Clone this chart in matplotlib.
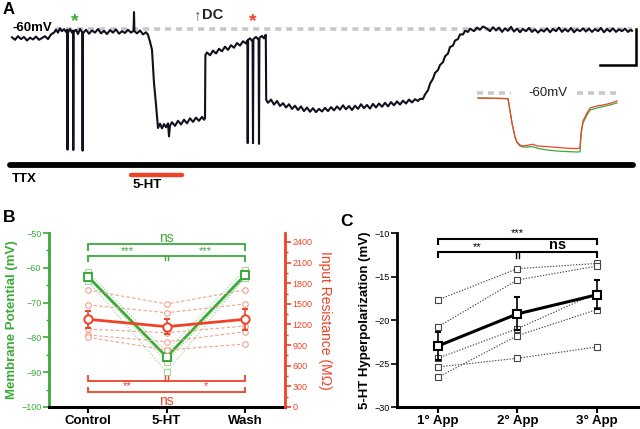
import matplotlib.pyplot as plt
from matplotlib.ticker import MultipleLocator

plt.rcParams['font.family'] = ['Liberation Sans', 'DejaVu Sans']

GREEN = '#3aaa38'
RED = '#ee4326'
LGREEN = '#a3d69e'
LRED = '#f2a189'
GREY = '#c8c8c8'
TRACE = '#140f1e'

# ---------------- data ----------------
# panel A: whole-cell recording (time in s, membrane potential in mV)
trace = [
    (0, -62.3), (3, -63.0), (6, -62.0), (9, -62.8), (12, -62.2), (15, -63.2), (18, -62.4),
    (21, -62.9), (24, -62.1), (27, -63.0), (30, -62.5), (33, -62.0), (36, -62.8), (39, -61.5),
    (42, -61.0), (44, -60.2), (46, -61.0), (48, -59.8), (50, -60.6), (52, -60.0), (54, -60.8),
    (55.2, -60.2), (55.5, -93.5), (55.9, -61.0), (58, -60.0), (60, -61.0), (61.0, -60.4),
    (61.3, -93.6), (61.7, -60.8), (64, -60.2), (66, -61.4), (68, -60.0), (70.2, -60.9),
    (70.6, -93.8), (71.0, -61.2), (74, -60.2), (77, -61.3), (80, -60.4), (83, -61.0), (86, -60.0),
    (89, -61.2), (92, -60.5), (95, -61.4), (98, -60.3), (101, -61.0), (104, -60.1), (107, -61.3),
    (110, -60.6), (113, -61.1), (116, -60.2), (119, -61.0), (121.6, -60.5), (122, -55.3),
    (122.4, -60.6), (125, -61.2), (128, -60.4), (131, -61.5), (134, -60.9), (136, -61.6),
    (138, -63.5), (140, -65.8), (142, -75.0), (144, -81.0), (145, -84.4), (146, -87.5),
    (148, -86.3), (150, -87.6), (152, -86.4), (154, -87.3), (156, -86.2), (157, -89.8),
    (158, -86.8), (160, -85.9), (163, -86.9), (166, -85.5), (169, -86.5), (172, -85.2),
    (175, -86.2), (178, -84.8), (181, -85.8), (184, -84.6), (187, -85.5), (190, -84.4),
    (192, -85.2), (193, -84.8), (193.4, -67.2), (195, -66.5), (198, -67.3), (201, -66.0),
    (204, -66.8), (207, -65.5), (210, -66.2), (213, -64.9), (216, -65.8), (219, -64.5),
    (222, -65.2), (225, -63.9), (228, -64.6), (231, -63.4), (234, -64.0), (235.4, -63.2),
    (235.7, -91.7), (236.1, -63.0), (238, -62.6), (240.6, -63.5), (241, -91.7), (241.4, -62.8),
    (244, -62.2), (246.6, -63.0), (247, -91.9), (247.4, -62.5), (250, -61.9), (252, -62.6),
    (253.8, -61.6), (254.2, -79.7), (256, -80.5), (259, -79.6), (262, -81.0), (265, -80.0),
    (268, -81.4), (271, -80.6), (274, -81.8), (277, -80.9), (280, -82.2), (283, -81.3),
    (286, -82.5), (289, -81.5), (292, -82.8), (295, -81.8), (298, -83.0), (301, -82.0),
    (304, -83.1), (307, -82.2), (310, -82.9), (313, -81.9), (316, -82.8), (319, -81.7),
    (322, -82.6), (325, -81.5), (328, -82.4), (331, -81.2), (334, -82.3), (337, -81.4),
    (340, -82.5), (343, -81.3), (346, -82.2), (349, -80.9), (352, -82.0), (355, -81.1),
    (358, -82.1), (361, -80.8), (364, -81.8), (367, -80.7), (370, -81.6), (373, -80.5),
    (376, -81.5), (379, -80.3), (382, -81.2), (385, -80.1), (388, -81.0), (391, -79.9),
    (394, -80.7), (397, -79.6), (400, -80.4), (403, -79.5), (406, -80.0), (408, -79.4),
    (411, -79.4), (413, -78.2), (416, -77.0), (418, -75.2), (421, -73.8), (423, -72.2),
    (426, -71.4), (428, -70.0), (431, -69.2), (433, -67.6), (436, -66.8), (438, -65.0),
    (441, -64.6), (443, -63.2), (446, -62.8), (448, -61.5), (451, -61.5), (453, -60.5),
    (456, -60.8), (458, -59.9), (462, -60.6), (465, -59.6), (468, -60.2), (471, -59.3),
    (475, -59.9), (478, -60.6), (481, -59.5), (484, -60.4), (487, -59.6), (490, -60.8),
    (493, -59.8), (496, -60.5), (499, -59.4), (502, -60.7), (505, -59.9), (508, -60.9),
    (511, -60.0), (514, -60.6), (517, -59.7), (520, -60.8), (523, -60.1), (526, -61.0),
    (529, -60.2), (532, -60.7), (535, -59.8), (538, -60.9), (541, -60.0), (544, -60.6),
    (547, -59.6), (550, -60.8), (553, -60.0), (556, -60.7), (559, -59.7), (562, -60.9),
    (565, -60.1), (568, -60.6), (571, -59.8), (574, -60.7), (577, -59.9), (580, -60.8),
    (583, -60.0), (586, -60.6), (589, -59.7), (592, -60.9), (595, -60.0), (598, -60.7),
    (601, -59.8), (604, -60.8), (607, -60.1), (610, -60.6), (613, -59.9), (616, -60.8),
    (619, -60.2), (620, -60.5),
]
ttx_span = (-2, 621)
ht_span = (119, 170)
scale_t = (588, 624)
scale_v = (-70, -60)

# inset: current-step responses at the two asterisks
inset_t = [1, 31, 35, 38, 40, 43, 46, 50, 56, 60, 70, 80, 90, 100, 103,
           104, 106, 110, 113, 120, 126, 133, 140]
inset_green = [-62.5, -62.8, -75.0, -82.0, -84.8, -86.5, -87.0, -87.0, -86.8, -87.6, -88.5,
               -89.0, -89.3, -89.5, -89.4, -81.0, -75.0, -71.0, -68.5, -67.5, -66.8, -66.0, -65.0]
inset_red = [-62.5, -62.8, -75.0, -82.0, -84.5, -86.0, -86.5, -86.2, -85.6, -86.5, -86.8,
             -87.2, -87.6, -87.8, -87.5, -80.0, -74.0, -70.0, -67.5, -66.5, -66.0, -65.2, -64.0]

# panel B
conditions = ['Control', '5-HT', 'Wash']
vm_cells = [
    [-61.3, -84.0, -60.5],
    [-62.5, -85.5, -61.8],
    [-63.0, -87.0, -63.0],
    [-63.8, -90.0, -62.8],
]
vm_mean = [-62.6, -85.6, -62.1]
vm_sem = [0.6, 1.2, 0.6]
rin_cells = [
    [1701, 1498, 1701],
    [1483, 1371, 1498],
    [1131, 1080, 1178],
    [1047, 949, 1095],
    [1013, 829, 916],
]
rin_mean = [1275, 1168, 1275]
rin_sem = [128, 107, 157]

# panel C
applications = ['1° App', '2° App', '3° App']
hyp_cells = [
    [-17.7, -14.1, -13.5],
    [-20.8, -15.4, -13.8],
    [-24.4, -21.0, -16.9],
    [-26.6, -21.8, -18.8],
    [-25.4, -24.4, -23.1],
]
hyp_mean = [-23.0, -19.3, -17.1]
hyp_sem = [1.6, 1.9, 1.65]

W, H = 640, 429
fig = plt.figure(figsize=(6.4, 4.29), dpi=100)


def px_axes(left, top, width, height):
    return fig.add_axes([left / W, 1 - (top + height) / H, width / W, height / H])


def bracket(ax, x0, x1, y, tick, color, lw=1.3):
    ax.plot([x0, x0, x1, x1], [y + tick, y, y, y + tick], color=color, lw=lw,
            solid_joinstyle='miter', solid_capstyle='butt', clip_on=False)


def mid_tick(ax, x, y0, y1, color):
    for dx in (-0.018, 0.018):
        ax.plot([x + dx, x + dx], [y0, y1], color=color, lw=1.0, clip_on=False)


# ---------------- panel A ----------------
ax_a = px_axes(0, 0, 640, 195)
ax_a.set_xlim(-12, 628)
ax_a.set_ylim(-106.11, -51.94)
ax_a.axis('off')

ax_a.plot([43, 620], [-60, -60], color=GREY, lw=2.6, dashes=(1.65, 1.4), zorder=1)
tt = [p[0] for p in trace]
vv = [p[1] for p in trace]
ax_a.plot(tt, vv, color=TRACE, lw=1.5, zorder=2)
ax_a.plot([scale_t[0], scale_t[1], scale_t[1]], [scale_v[0], scale_v[0], scale_v[1]],
          color='black', lw=1.8, solid_joinstyle='miter')
ax_a.plot(ttx_span, [-97.8, -97.8], color='black', lw=4.2, solid_capstyle='round')
ax_a.plot(ht_span, [-100.6, -100.6], color=RED, lw=3.2, solid_capstyle='round')
ax_a.text(0, -101.6, 'TTX', fontsize=9.5, fontweight='bold', va='center', ha='left')
ax_a.text(121, -103.4, '5-HT', fontsize=9.5, fontweight='bold', va='center', ha='left')
ax_a.text(0, -59.6, '-60mV', fontsize=9.5, fontweight='bold', va='center', ha='left')
ax_a.text(63, -59.2, '*', fontsize=14, fontweight='bold', color=GREEN, ha='center', va='baseline')
ax_a.text(241, -59.2, '*', fontsize=14, fontweight='bold', color=RED, ha='center', va='baseline')
ax_a.text(186, -56.0, '↑', fontsize=11, color='#555555', ha='center', va='center')
ax_a.text(190, -56.0, 'DC', fontsize=10.5, fontweight='bold', color='#222222',
          ha='left', va='center')

ax_in = px_axes(477, 85, 145, 75)
ax_in.set_xlim(0, 145)
ax_in.set_ylim(-93.5, -56)
ax_in.axis('off')
ax_in.plot([0, 34], [-60, -60], color=GREY, lw=2.6, dashes=(1.65, 1.4))
ax_in.plot([100, 143], [-60, -60], color=GREY, lw=2.6, dashes=(1.65, 1.4))
ax_in.text(71, -60, '-60mV', fontsize=9.5, ha='center', va='center', color='#222222')
ax_in.plot(inset_t, inset_green, color=GREEN, lw=0.9)
ax_in.plot(inset_t, inset_red, color=RED, lw=0.9)

# ---------------- panel B ----------------
xb = [0, 1, 2]
ax_b = px_axes(49, 233, 236, 174)
ax_b.set_xlim(-0.5, 2.51)
ax_b.set_ylim(-100, -50)
ax_r = ax_b.twinx()
ax_r.set_ylim(0, 2530)

for s in vm_cells:
    ax_b.plot(xb, s, ls=(0, (1.2, 1.4)), color=LGREEN, lw=0.8, marker='s', ms=3.8,
              mfc='white', mec=LGREEN, mew=0.8)
ax_b.errorbar(xb, vm_mean, yerr=vm_sem, color=GREEN, lw=2.0, marker='s', ms=6,
              mfc='white', mec=GREEN, mew=1.4, capsize=2.5, elinewidth=1.2, zorder=5)

for s in rin_cells:
    ax_r.plot(xb, s, ls=(0, (3, 2)), color=LRED, lw=0.8, marker='o', ms=4,
              mfc='white', mec=LRED, mew=0.8)
ax_r.errorbar(xb, rin_mean, yerr=rin_sem, color=RED, lw=2.0, marker='o', ms=6,
              mfc='white', mec=RED, mew=1.4, capsize=2.5, elinewidth=1.2, zorder=5)

# significance brackets
bracket(ax_b, 0, 2, -53.25, -1.9, GREEN)
ax_b.text(1, -51.5, 'ns', color=GREEN, fontsize=10, ha='center', va='center')
bracket(ax_b, 0, 2, -56.5, -1.7, GREEN)
mid_tick(ax_b, 1, -56.5, -57.9, GREEN)
ax_b.text(0.5, -55.2, '***', color=GREEN, fontsize=8, ha='center', va='center')
ax_b.text(1.5, -55.2, '***', color=GREEN, fontsize=8, ha='center', va='center')
bracket(ax_b, 0, 2, -92.5, 1.7, RED)
mid_tick(ax_b, 1, -92.5, -91.0, RED)
bracket(ax_b, 0, 2, -95.8, 1.6, RED)
ax_b.text(0.5, -94.0, '**', color=RED, fontsize=8, ha='center', va='center')
ax_b.text(1.5, -94.0, '*', color=RED, fontsize=8, ha='center', va='center')
ax_b.text(1, -98.2, 'ns', color=RED, fontsize=10, ha='center', va='center')

for sp in ('top', 'right'):
    ax_b.spines[sp].set_visible(False)
for sp in ('top', 'left', 'bottom'):
    ax_r.spines[sp].set_visible(False)
ax_b.spines['left'].set_color(GREEN)
ax_b.spines['left'].set_linewidth(2.0)
ax_b.spines['bottom'].set_linewidth(2.2)
ax_r.spines['right'].set_color(RED)
ax_r.spines['right'].set_linewidth(2.0)

ax_b.yaxis.set_major_locator(MultipleLocator(10))
ax_b.yaxis.set_minor_locator(MultipleLocator(5))
ax_b.tick_params(axis='y', which='major', colors=GREEN, labelsize=6.5, length=4, width=1.2, pad=1.5)
ax_b.tick_params(axis='y', which='minor', colors=GREEN, length=2.5, width=1.0)
ax_b.set_xticks(xb)
ax_b.set_xticklabels(conditions, fontsize=9.5, fontweight='bold')
ax_b.tick_params(axis='x', length=4, width=1.5, pad=2)
ax_b.set_ylabel('Membrane Potential (mV)', color=GREEN, fontsize=9.5, fontweight='bold', labelpad=2)

ax_r.yaxis.set_major_locator(MultipleLocator(300))
ax_r.yaxis.set_minor_locator(MultipleLocator(150))
ax_r.set_yticks(range(0, 2401, 300))
ax_r.tick_params(axis='y', which='major', colors=RED, labelsize=6.5, length=4, width=1.2, pad=1.5)
ax_r.tick_params(axis='y', which='minor', colors=RED, length=2.5, width=1.0)
ax_r.set_ylabel('Input Resistance (MΩ)', color=RED, fontsize=10, rotation=270, va='bottom',
                labelpad=4)

# ---------------- panel C ----------------
xc = [0, 1, 2]
ax_c = px_axes(397, 233, 243, 174)
ax_c.set_xlim(-0.51, 2.54)
ax_c.set_ylim(-30, -10)
for s in hyp_cells:
    ax_c.plot(xc, s, ls=(0, (1.2, 1.4)), color='#444444', lw=0.8, marker='s', ms=3.8,
              mfc='white', mec='#444444', mew=0.8)
ax_c.errorbar(xc, hyp_mean, yerr=hyp_sem, color='black', lw=2.2, marker='s', ms=6,
              mfc='white', mec='black', mew=1.5, capsize=2.5, elinewidth=1.2, zorder=5)

bracket(ax_c, 0, 2, -10.72, -0.66, 'black', lw=1.5)
ax_c.text(1, -10.0, '***', fontsize=8, ha='center', va='center')
bracket(ax_c, 0, 2, -12.15, -0.75, 'black', lw=1.5)
mid_tick(ax_c, 1, -12.15, -12.9, 'black')
ax_c.text(0.5, -11.6, '**', fontsize=8, ha='center', va='center')
ax_c.text(1.5, -11.4, 'ns', fontsize=10.5, fontweight='bold', ha='center', va='center')

for sp in ('top', 'right'):
    ax_c.spines[sp].set_visible(False)
ax_c.spines['left'].set_linewidth(2.0)
ax_c.spines['bottom'].set_linewidth(2.2)
ax_c.set_yticks([-30, -25, -20, -15, -10])
ax_c.tick_params(axis='y', labelsize=6.5, length=4, width=1.2, pad=1.5)
ax_c.set_xticks(xc)
ax_c.set_xticklabels(applications, fontsize=9.5, fontweight='bold')
ax_c.tick_params(axis='x', length=4, width=1.5, pad=2)
ax_c.set_ylabel('5-HT Hyperpolarization (mV)', fontsize=9.5, fontweight='bold', labelpad=2)

# panel letters
fig.text(3 / W, 1 - 10 / H, 'A', fontsize=12, fontweight='bold', va='center')
fig.text(3 / W, 1 - 217 / H, 'B', fontsize=12.5, fontweight='bold', va='center')
fig.text(340 / W, 1 - 222 / H, 'C', fontsize=12.5, fontweight='bold', va='center')

fig.savefig('out.png', dpi=100)
